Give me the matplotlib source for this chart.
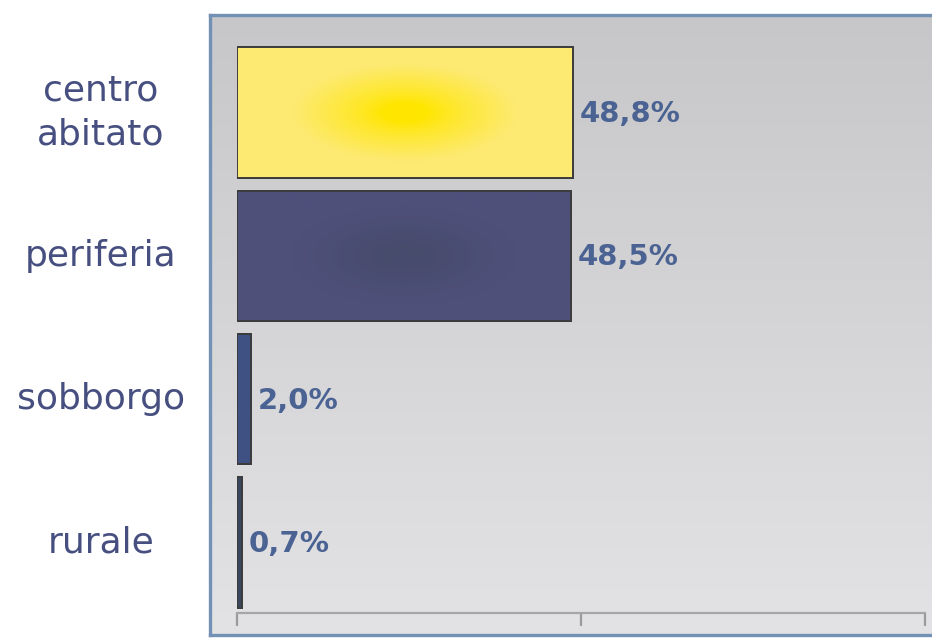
import matplotlib.pyplot as plt
import matplotlib.transforms as mtransforms
import numpy as np
from matplotlib.colors import to_rgb

categories = ["centro\nabitato", "periferia", "sobborgo", "rurale"]
values = [48.8, 48.5, 2.0, 0.7]
value_labels = ["48,8%", "48,5%", "2,0%", "0,7%"]

# styles
bar_colors = ["#fdea72", "#4e507a", "#3f5082", "#39465f"]
bar_centers = ["#ffe600", "#474b6c", None, None]
label_color = "#4b6393"
cat_color = "#464f80"

W, H = 932, 639
fig = plt.figure(figsize=(W / 100, H / 100), dpi=100)
fig.patch.set_facecolor("white")

# framed gradient background
ax_bg = fig.add_axes([210 / W, 1 - 635 / H, 740 / W, 620 / H])
grad = np.linspace(0, 1, 256)[:, None]
top, bot = np.array(to_rgb("#c7c7c9")), np.array(to_rgb("#e3e3e5"))
img = top * (1 - grad[..., None]) + bot * grad[..., None]
img = np.repeat(img, 4, axis=1)
ax_bg.imshow(img, extent=[0, 1, 0, 1], aspect="auto", interpolation="bilinear")
ax_bg.set_xticks([])
ax_bg.set_yticks([])
for side, sp in ax_bg.spines.items():
    sp.set_color("#7391b4")
    sp.set_linewidth(2.4)
ax_bg.spines["right"].set_visible(False)

# main axes
ax = fig.add_axes([237 / W, 1 - 613 / H, 688 / W, 573 / H])
ax.patch.set_alpha(0)
y = np.arange(len(categories))
bh = 0.91
bars = ax.barh(y, values, height=bh, color=bar_colors, edgecolor="#3c3c3c",
               linewidth=1.4, zorder=2)


def radial(patch, x0, x1, yc, inner, outer):
    n = 240
    xx, yy = np.meshgrid(np.linspace(-1, 1, n), np.linspace(-1, 1, n))
    r = np.sqrt((xx / 0.9) ** 2 + (yy / 1.0) ** 2)
    t = np.clip((r - 0.15) / 0.6, 0, 1)[..., None]
    t = t ** 0.8
    c = np.array(to_rgb(inner)) * (1 - t) + np.array(to_rgb(outer)) * t
    im = ax.imshow(c, extent=[x0, x1, yc + bh / 2, yc - bh / 2], aspect="auto",
                   interpolation="bilinear", zorder=2.5)
    im.set_clip_path(patch)


for b, v, yc, ci, co in zip(bars, values, y, bar_centers, bar_colors):
    if ci is not None:
        radial(b, 0, v, yc, ci, co)
# outlines on top
ax.barh(y, values, height=bh, color="none", edgecolor="#3c3c3c",
        linewidth=1.4, zorder=3)

ax.set_xlim(0, 100)
ax.set_ylim(3.492, -0.506)

for v, yc, lab in zip(values, y, value_labels):
    ax.annotate(lab, (v, yc), xytext=(5, -1), textcoords="offset points",
                ha="left", va="center", fontsize=21, fontweight="bold",
                color=label_color, zorder=4)

tr = mtransforms.blended_transform_factory(fig.transFigure, ax.transData)
for yc, cat in zip(y, categories):
    ax.text(101 / W, yc, cat, transform=tr, ha="center", va="center",
            fontsize=26, color=cat_color, linespacing=1.38)

for side in ["left", "top", "right"]:
    ax.spines[side].set_visible(False)
ax.spines["bottom"].set_color("#a6a6a6")
ax.spines["bottom"].set_linewidth(1.6)
ax.set_xticks([0, 50, 100])
ax.set_xticklabels([])
ax.set_yticks([])
ax.tick_params(axis="x", direction="out", length=9, width=1.6, color="#9a9a9a")

fig.savefig("out.png", dpi=100)
